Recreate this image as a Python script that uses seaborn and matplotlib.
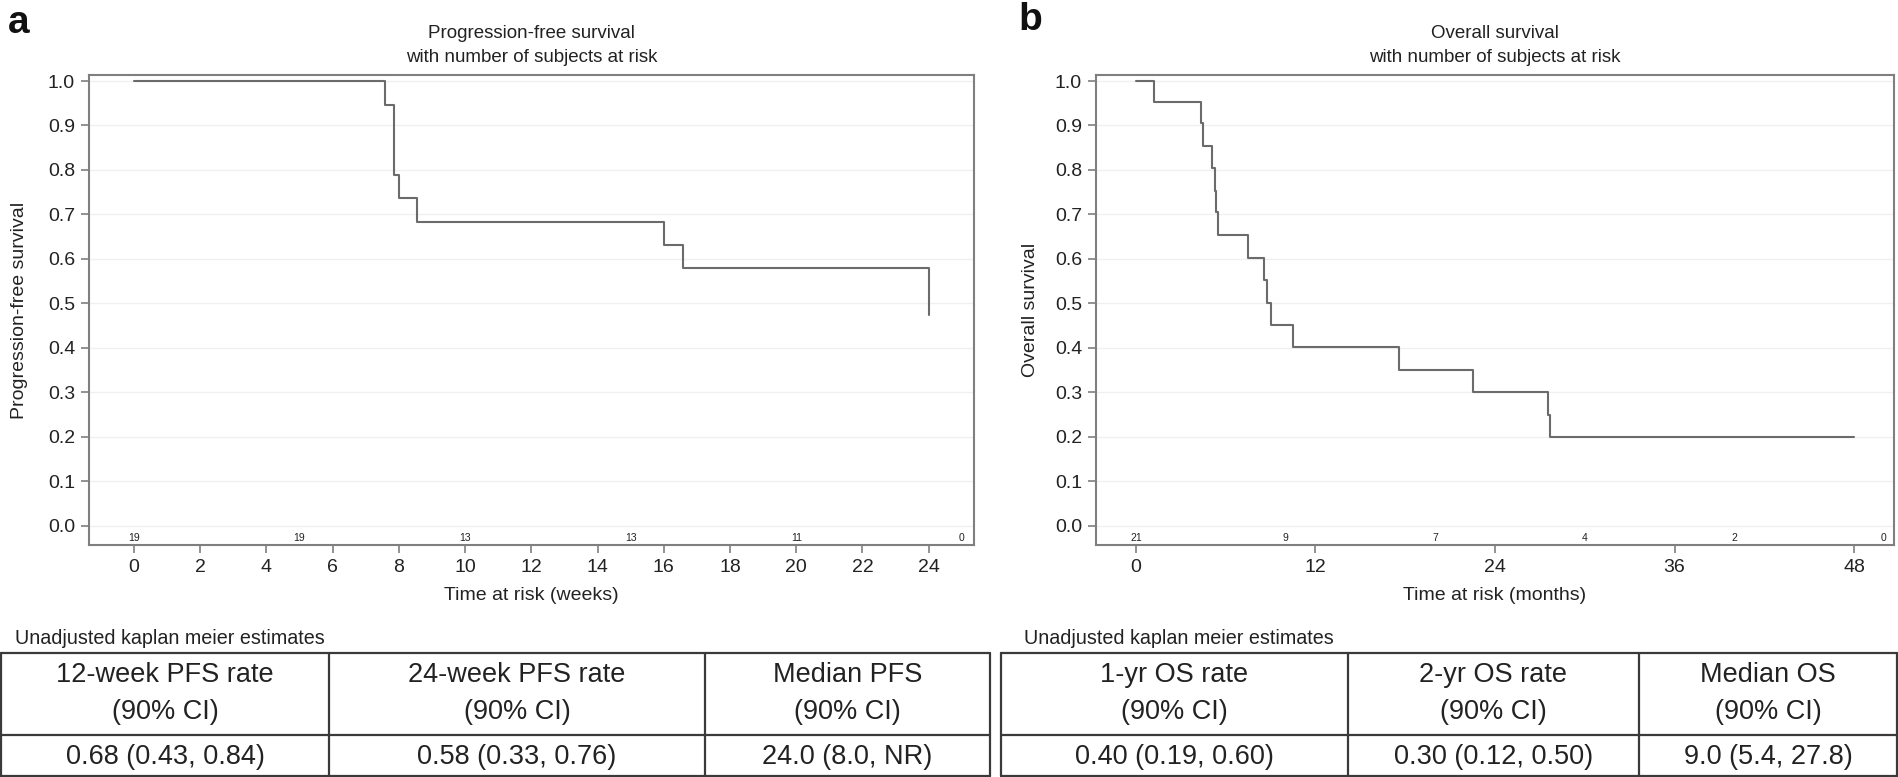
import matplotlib.pyplot as plt
import seaborn as sns
import pandas as pd

# Progression-free survival (weeks)
pfs_time = [0, 7.58, 7.86, 8.0, 8.56, 16.0, 16.58, 24, 24]
pfs_surv = [1.0, 0.947, 0.789, 0.737, 0.684, 0.632, 0.579, 0.579, 0.474]
pfs_risk_time = [0, 5, 10, 15, 20, 25]
pfs_risk_n = [19, 19, 13, 13, 11, 0]
pfs_xticks = list(range(0, 25, 2))

# Overall survival (months)
os_time = [0, 1.2, 4.32, 4.45, 5.08, 5.28, 5.37, 5.5, 7.46, 8.58, 8.73, 9.02,
           10.5, 17.6, 22.55, 27.55, 27.7, 48]
os_surv = [1.0, 0.952, 0.905, 0.855, 0.805, 0.753, 0.705, 0.654, 0.602, 0.552,
           0.502, 0.451, 0.402, 0.350, 0.300, 0.250, 0.200, 0.200]
os_risk_time = [0, 10, 20, 30, 40, 50]
os_risk_n = [21, 9, 7, 4, 2, 0]
os_xticks = [0, 12, 24, 36, 48]

yticks = [i / 10 for i in range(11)]

pfs_head = ["12-week PFS rate", "24-week PFS rate", "Median PFS"]
pfs_vals = ["0.68 (0.43, 0.84)", "0.58 (0.33, 0.76)", "24.0 (8.0, NR)"]
os_head = ["1-yr OS rate", "2-yr OS rate", "Median OS"]
os_vals = ["0.40 (0.19, 0.60)", "0.30 (0.12, 0.50)", "9.0 (5.4, 27.8)"]

sns.set_theme(style="white")
plt.rcParams['font.family'] = ['Liberation Sans', 'DejaVu Sans']

W, H = 1899, 777
fig = plt.figure(figsize=(W / 100, H / 100), dpi=100)

frame_col = "#7f7f7f"
line_col = "#6b6b6b"


def km_panel(rect, time, surv, risk_t, risk_n, xticks, xlim, title, xlabel, ylabel, ylab_x):
    ax = fig.add_axes(rect)
    df = pd.DataFrame({"t": time, "s": surv})
    sns.lineplot(data=df, x="t", y="s", ax=ax, estimator=None, sort=False,
                 drawstyle="steps-post", color=line_col, linewidth=1.5)
    ax.set_xlim(*xlim)
    ax.set_ylim(-0.043, 1.0135)
    ax.set_xticks(xticks)
    ax.set_yticks(yticks)
    ax.set_yticklabels([f"{v:.1f}" for v in yticks])
    for v in yticks:
        ax.axhline(v, color="#f0f0f0", lw=1, zorder=0)
    for sp in ax.spines.values():
        sp.set_color(frame_col)
        sp.set_linewidth(1.5)
    ax.tick_params(axis="both", which="major", direction="out", length=6, width=1.2,
                   color=frame_col, labelsize=14, labelcolor="#222222", pad=4,
                   bottom=True, left=True)
    for t, n in zip(risk_t, risk_n):
        ax.text(t, -0.027, str(n), ha="center", va="center", fontsize=7.5, color="#222222")
    ax.set_title(title, fontsize=13.5, color="#222222", pad=9, linespacing=1.6)
    ax.set_xlabel(xlabel, fontsize=14, color="#222222")
    ax.set_ylabel(ylabel, fontsize=14, color="#222222")
    ax.xaxis.set_label_coords(0.5, -0.09)
    ax.yaxis.set_label_coords(ylab_x, 0.5)
    return ax


km_panel([89 / W, 232 / H, 885 / W, 470 / H], pfs_time, pfs_surv, pfs_risk_time, pfs_risk_n,
         pfs_xticks, (-1.36, 25.37), "Progression-free survival\nwith number of subjects at risk",
         "Time at risk (weeks)", "Progression-free survival", -0.069)
km_panel([1096 / W, 232 / H, 798 / W, 470 / H], os_time, os_surv, os_risk_time, os_risk_n,
         os_xticks, (-2.67, 50.67), "Overall survival\nwith number of subjects at risk",
         "Time at risk (months)", "Overall survival", -0.072)

# overlay in pixel coordinates for panel letters and tables
ov = fig.add_axes([0, 0, 1, 1])
ov.set_xlim(0, W)
ov.set_ylim(H, 0)
ov.axis("off")

ov.text(8, 33, "a", fontsize=28, fontweight="bold", color="#111111", va="baseline")
ov.text(1018, 30, "b", fontsize=28, fontweight="bold", color="#111111", va="baseline")


def table(cols, heads, vals, label_x):
    ov.text(label_x, 638, "Unadjusted kaplan meier estimates", fontsize=14.2,
            color="#222222", va="center", ha="left")
    top, mid, bot = 653, 735, 775.5
    c = "#3a3a3a"
    ov.plot([cols[0], cols[-1]], [top, top], color=c, lw=1.6)
    ov.plot([cols[0], cols[-1]], [mid, mid], color=c, lw=1.6)
    ov.plot([cols[0], cols[-1]], [bot, bot], color=c, lw=1.6)
    for x in cols:
        ov.plot([x, x], [top, bot], color=c, lw=1.6)
    for i, (h, v) in enumerate(zip(heads, vals)):
        xc = (cols[i] + cols[i + 1]) / 2
        ov.text(xc, 675, h, fontsize=19.5, ha="center", va="center", color="#222222")
        ov.text(xc, 712, "(90% CI)", fontsize=19.5, ha="center", va="center", color="#222222")
        ov.text(xc, 757, v, fontsize=19.5, ha="center", va="center", color="#222222")


table([1.5, 329, 705, 990], pfs_head, pfs_vals, 15)
table([1001, 1348, 1639, 1897], os_head, os_vals, 1024)

fig.savefig("out.png", dpi=100)
